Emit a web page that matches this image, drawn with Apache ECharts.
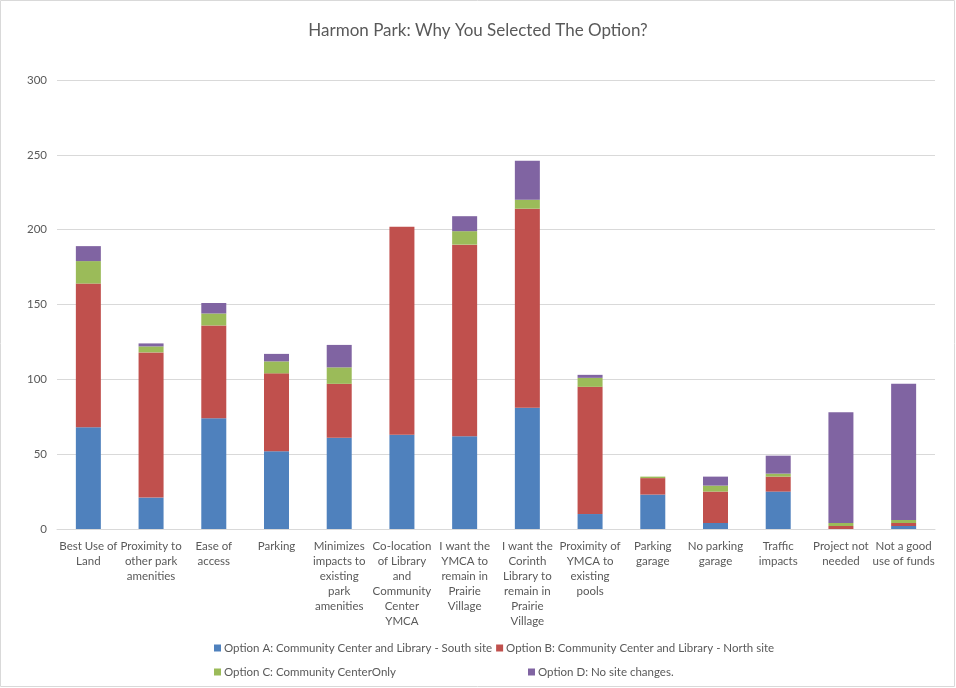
<!DOCTYPE html>
<html><head><meta charset="utf-8">
<script src="https://cdn.jsdelivr.net/npm/echarts@6/dist/echarts.min.js"></script>
<style>html,body{margin:0;padding:0;background:#fff}#c{width:956px;height:688px}</style>
</head><body><div id="c"></div>
<script>
const categories = [
  "Best Use of\nLand", "Proximity to\nother park\namenities", "Ease of\naccess", "Parking",
  "Minimizes\nimpacts to\nexisting\npark\namenities",
  "Co-location\nof Library\nand\nCommunity\nCenter\nYMCA",
  "I want the\nYMCA to\nremain in\nPrairie\nVillage",
  "I want the\nCorinth\nLibrary to\nremain in\nPrairie\nVillage",
  "Proximity of\nYMCA to\nexisting\npools",
  "Parking\ngarage", "No parking\ngarage", "Traffic\nimpacts", "Project not\nneeded", "Not a good\nuse of funds"
];
const seriesNames = [
  "Option A: Community Center and Library - South site",
  "Option B: Community Center and Library - North site",
  "Option C: Community CenterOnly",
  "Option D: No site changes."
];
const optionA = [68, 21, 74, 52, 61, 63, 62, 81, 10, 23, 4, 25, 0, 2];
const optionB = [96, 97, 62, 52, 36, 139, 128, 133, 85, 11, 21, 10, 2, 2];
const optionC = [15, 4, 8, 8, 11, 0, 9, 6, 6, 1, 4, 2, 2, 2];
const optionD = [10, 2, 7, 5, 15, 0, 10, 26, 2, 0, 6, 12, 74, 91];
const yTicks = {min: 0, max: 300, interval: 50};
const colors = ["#4F81BD", "#C0504D", "#9BBB59", "#8064A2"];

const font = "Lato, 'Open Sans', sans-serif";
const values = [optionA, optionB, optionC, optionD];
const chart = echarts.init(document.getElementById('c'));
const legendBase = {
  itemWidth: 7, itemHeight: 7, itemGap: 4, icon: 'rect',
  textStyle: {color: '#595959', fontSize: 11.5, fontFamily: font, padding: [0, 0, 0, -2]}
};
chart.setOption({
  animation: false,
  color: colors,
  title: {
    text: "Harmon Park: Why You Selected The Option?",
    left: 'center', top: 17,
    textStyle: {color: '#595959', fontSize: 17, fontWeight: 'normal', fontFamily: font}
  },
  legend: [
    Object.assign({data: [seriesNames[0], seriesNames[1]], left: 209, top: 637}, legendBase),
    Object.assign({data: [seriesNames[2]], left: 209, top: 661}, legendBase),
    Object.assign({data: [seriesNames[3]], left: 523, top: 661}, legendBase)
  ],
  grid: {left: 57, right: 21, top: 80, bottom: 159, containLabel: false},
  xAxis: {
    type: 'category', data: categories,
    axisLine: {lineStyle: {color: '#d9d9d9'}},
    axisTick: {show: false},
    axisLabel: {color: '#595959', fontSize: 11.5, fontFamily: font, lineHeight: 15, interval: 0, margin: 10}
  },
  yAxis: {
    type: 'value', min: yTicks.min, max: yTicks.max, interval: yTicks.interval,
    axisLine: {show: false}, axisTick: {show: false},
    axisLabel: {color: '#595959', fontSize: 11.5, fontFamily: font, margin: 10},
    splitLine: {lineStyle: {color: '#d9d9d9'}}
  },
  series: seriesNames.map((n, i) => ({
    name: n, type: 'bar', stack: 'total', data: values[i], barWidth: 25,
    itemStyle: {color: colors[i]}
  })),
  graphic: [{type: 'rect', shape: {x: 0.5, y: 0.5, width: 954, height: 686}, style: {fill: 'none', stroke: '#d9d9d9', lineWidth: 1}, silent: true}]
});
</script></body></html>
